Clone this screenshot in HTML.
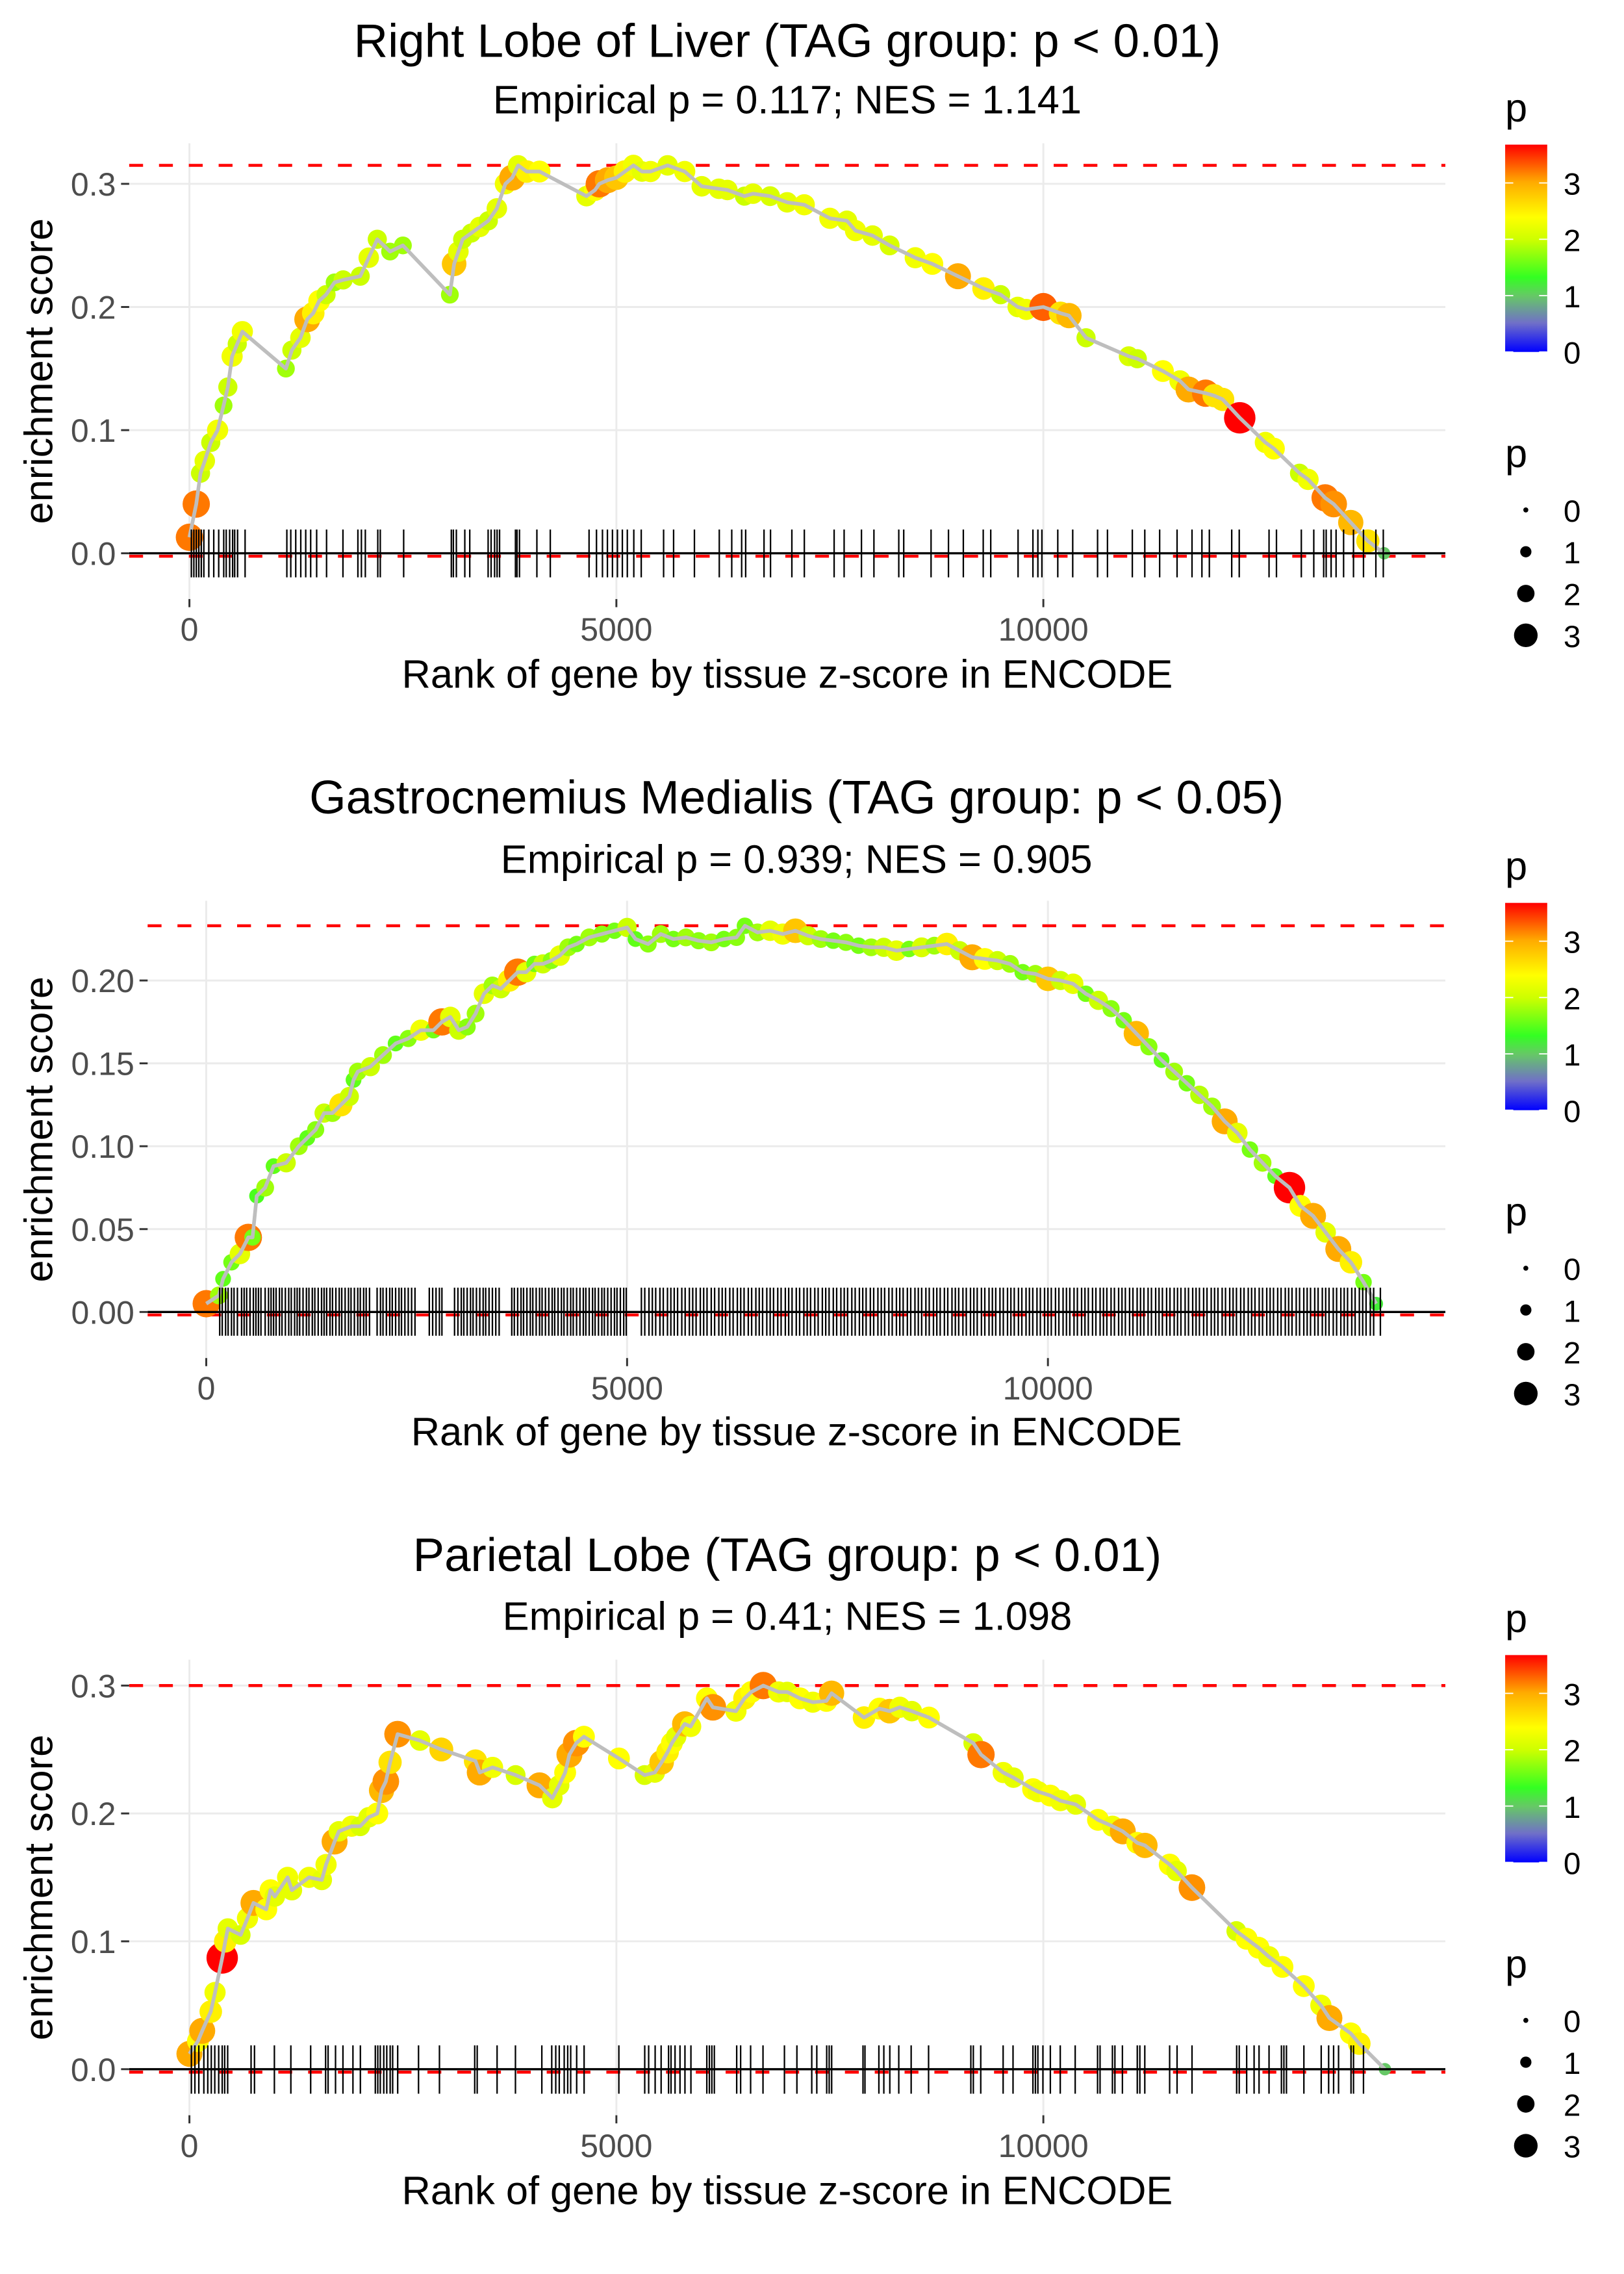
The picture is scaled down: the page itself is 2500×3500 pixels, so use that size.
<!DOCTYPE html>
<html><head><meta charset="utf-8">
<style>
html,body{margin:0;padding:0;background:#fff;}
svg{display:block;}
text{font-family:"Liberation Sans",Arial,sans-serif;}
</style></head>
<body>
<svg id="chart" xmlns="http://www.w3.org/2000/svg" width="2500" height="3500" viewBox="0 0 1100 1540">
<defs>
<linearGradient id="pgrad" x1="0" y1="1" x2="0" y2="0">
<stop offset="0" stop-color="#0000ff"/>
<stop offset="0.14" stop-color="#7070c8"/>
<stop offset="0.27" stop-color="#66c866"/>
<stop offset="0.36" stop-color="#33ff22"/>
<stop offset="0.54" stop-color="#ccff00"/>
<stop offset="0.65" stop-color="#ffff00"/>
<stop offset="0.82" stop-color="#ffaa00"/>
<stop offset="1" stop-color="#ff0000"/>
</linearGradient>
</defs>
</svg>
<script>
// ---------- data ----------
const p1Rank=[0,80,130,180,250,330,400,450,500,560,620,1130,1200,1300,1380,1450,1520,1600,1700,1800,2000,2100,2200,2350,2500,3050,3100,3150,3200,3300,3400,3500,3600,3700,3780,3850,3950,4100,4650,4750,4800,4900,5000,5100,5200,5300,5400,5600,5800,6000,6200,6300,6500,6600,6800,7000,7200,7500,7700,7800,8000,8200,8500,8700,9000,9300,9500,9700,9800,10000,10200,10300,10500,11000,11100,11400,11600,11700,11900,12000,12100,12300,12600,12700,13000,13100,13300,13400,13600,13800,13990];
const p1Es=[0.013,0.04,0.065,0.075,0.09,0.1,0.12,0.135,0.16,0.17,0.18,0.15,0.165,0.175,0.19,0.195,0.205,0.21,0.22,0.222,0.225,0.24,0.255,0.245,0.25,0.21,0.235,0.245,0.255,0.26,0.265,0.27,0.28,0.3,0.305,0.315,0.31,0.31,0.29,0.295,0.3,0.303,0.305,0.31,0.315,0.31,0.31,0.315,0.31,0.298,0.296,0.295,0.29,0.292,0.29,0.285,0.283,0.272,0.27,0.262,0.258,0.25,0.24,0.235,0.225,0.215,0.21,0.2,0.198,0.2,0.195,0.193,0.175,0.16,0.158,0.148,0.14,0.133,0.13,0.128,0.125,0.11,0.09,0.085,0.065,0.06,0.045,0.04,0.025,0.01,0.0];
const p1P=[3.2,3.2,2,2.2,2,2.3,1.8,2,2.3,2,2.3,1.8,2,2.2,3,2.5,2.4,2,1.8,2,2,2.2,2,1.8,1.8,1.8,2.8,2.2,2,2,2.2,2,2.2,2.3,3,2.2,2.5,2.4,2.2,2.4,3.2,3,2.8,2.5,2.3,2.2,2.3,2.2,2.3,2.2,2.2,2.2,2,2.2,2.1,2.2,2.3,2.3,2.2,2.3,2.2,2.1,2.3,2.4,3,2.5,2,2.2,2.3,3.3,2.6,2.9,2,2.1,2,2.4,2.3,3,3.2,2.6,2.6,3.8,2.3,2.4,2,2.3,3.2,3.1,2.9,2.6,1];
const p1Rug=[23,52,81,110,139,169,227,285,343,402,431,471,506,530,564,652,1141,1187,1245,1304,1362,1420,1490,1606,1798,1973,2014,2060,2206,2235,2509,3067,3091,3126,3225,3283,3498,3533,3574,3603,3632,3818,3836,3865,4069,4226,4680,4767,4837,4895,4954,5012,5070,5128,5204,5291,5553,5670,5914,6205,6351,6467,6514,6729,6805,7055,7201,7550,7667,7870,8016,8307,8365,8685,8889,9063,9296,9384,9704,9878,9936,9983,10169,10344,10635,10751,11042,11188,11362,11566,11741,11857,11944,12206,12294,12643,12730,13021,13167,13283,13312,13370,13428,13516,13632,13749,13894,13981];

const p2Rank=[0,150,200,300,400,500,550,600,700,800,950,1100,1200,1300,1400,1500,1600,1700,1750,1800,1950,2100,2250,2400,2550,2700,2800,2900,3000,3100,3200,3300,3400,3500,3600,3700,3800,3900,4000,4100,4200,4300,4400,4550,4700,4850,5000,5100,5250,5400,5550,5700,5850,6000,6150,6300,6400,6550,6700,6850,7000,7150,7300,7450,7600,7750,7900,8050,8200,8350,8500,8650,8800,8950,9100,9250,9400,9550,9700,9850,10000,10150,10300,10450,10600,10750,10900,11050,11200,11350,11500,11650,11800,11950,12100,12250,12400,12550,12700,12870,13000,13150,13300,13450,13600,13750,13900];
const p2Es=[0.005,0.01,0.02,0.03,0.035,0.045,0.045,0.07,0.075,0.088,0.09,0.1,0.105,0.11,0.12,0.12,0.125,0.13,0.14,0.145,0.148,0.155,0.162,0.165,0.17,0.17,0.175,0.178,0.17,0.172,0.18,0.192,0.197,0.195,0.2,0.205,0.205,0.21,0.21,0.212,0.215,0.22,0.222,0.226,0.228,0.23,0.232,0.225,0.222,0.228,0.225,0.226,0.224,0.223,0.225,0.226,0.233,0.229,0.23,0.228,0.23,0.227,0.225,0.224,0.223,0.221,0.22,0.22,0.218,0.219,0.22,0.221,0.222,0.218,0.214,0.213,0.212,0.21,0.205,0.204,0.201,0.2,0.198,0.192,0.188,0.183,0.176,0.168,0.16,0.152,0.145,0.138,0.131,0.124,0.115,0.108,0.098,0.09,0.082,0.075,0.064,0.058,0.048,0.038,0.03,0.018,0.005];
const p2P=[3.2,1.8,1.5,1.6,2.2,3.2,1.6,1.4,1.8,1.5,2,1.8,1.5,1.7,2,1.8,2.6,2,1.5,1.8,2,1.8,1.5,1.7,2.3,1.6,3.2,2.2,2,1.7,1.8,2.2,1.8,2,2.5,3.2,2.2,1.6,2,1.7,2.2,1.8,1.6,1.8,1.7,1.6,2,1.5,1.7,1.8,1.6,1.8,1.7,1.8,1.6,1.7,1.6,1.8,2.2,2.3,2.8,2,1.8,1.6,1.7,1.6,1.8,2,2.2,1.6,2.1,1.8,2.5,2,3,2.4,2,1.8,1.6,1.8,2.8,2,2.2,1.6,2,1.7,1.6,2.9,1.7,1.5,1.8,1.6,1.9,1.8,3,2.2,1.6,1.8,1.5,3.8,2.4,3,2.2,3,2.5,1.6,1.2];
const p2Rug=[160,190,230,260,300,330,370,420,450,480,520,560,590,620,650,700,740,770,800,830,870,900,940,980,1010,1050,1080,1110,1150,1190,1220,1260,1290,1330,1370,1400,1430,1470,1500,1540,1580,1610,1650,1690,1720,1760,1800,1830,1870,1900,1940,2030,2070,2100,2140,2180,2210,2250,2290,2320,2360,2400,2440,2480,2650,2690,2730,2770,2800,2950,2990,3030,3060,3100,3140,3170,3210,3250,3290,3320,3360,3400,3440,3480,3630,3660,3700,3740,3770,3810,3850,3880,3920,3960,3990,4030,4070,4110,4140,4180,4220,4250,4290,4330,4360,4400,4440,4480,4510,4550,4590,4620,4660,4700,4730,4770,4810,4850,4880,4920,4960,4990,5170,5210,5260,5300,5340,5390,5430,5480,5520,5560,5600,5650,5690,5740,5780,5820,5870,5910,5950,6000,6040,6090,6130,6170,6220,6260,6310,6350,6390,6440,6480,6530,6570,6610,6660,6700,6740,6790,6830,6880,6920,6960,7010,7050,7100,7140,7180,7230,7270,7320,7360,7400,7450,7490,7540,7580,7620,7670,7710,7760,7800,7840,7890,7930,7980,8020,8060,8110,8150,8200,8240,8280,8330,8370,8420,8460,8500,8550,8590,8640,8680,8720,8770,8810,8860,8900,8940,8990,9030,9080,9120,9160,9210,9250,9300,9340,9380,9430,9470,9520,9560,9600,9650,9690,9740,9780,9820,9870,9910,9960,10000,10040,10090,10130,10180,10220,10260,10310,10350,10400,10440,10480,10530,10570,10620,10660,10700,10750,10790,10840,10880,10920,10970,11010,11060,11100,11140,11190,11230,11280,11320,11360,11410,11450,11500,11540,11580,11630,11670,11720,11760,11800,11850,11890,11940,11980,12020,12070,12110,12160,12200,12240,12290,12330,12380,12420,12460,12510,12550,12600,12640,12680,12730,12770,12820,12860,12900,12950,12990,13040,13080,13120,13170,13210,13260,13300,13340,13390,13430,13480,13520,13560,13610,13650,13700,13740,13780,13830,13870,13950];

const p3Rank=[0,100,150,250,300,384,420,450,600,680,750,900,950,1000,1150,1200,1400,1550,1600,1700,1750,1900,2000,2100,2200,2250,2300,2350,2438,2700,2950,3350,3400,3550,3820,4100,4250,4330,4400,4450,4530,4620,5030,5330,5450,5530,5600,5650,5700,5800,5870,6060,6130,6400,6500,6580,6720,6900,7000,7150,7300,7460,7520,7900,8080,8200,8320,8460,8660,9180,9270,9530,9650,9880,9940,10080,10200,10380,10640,10810,10930,11100,11190,11480,11560,11740,12260,12380,12520,12640,12800,13050,13250,13350,13600,13700,14000];
const p3Es=[0.012,0.022,0.03,0.045,0.06,0.087,0.1,0.11,0.105,0.118,0.13,0.125,0.14,0.135,0.15,0.14,0.15,0.148,0.16,0.178,0.186,0.19,0.19,0.197,0.2,0.218,0.225,0.24,0.262,0.257,0.25,0.241,0.232,0.236,0.23,0.222,0.212,0.222,0.232,0.246,0.255,0.26,0.243,0.23,0.232,0.24,0.248,0.255,0.26,0.27,0.268,0.29,0.283,0.28,0.29,0.295,0.3,0.295,0.295,0.29,0.287,0.288,0.294,0.275,0.282,0.28,0.283,0.28,0.275,0.255,0.246,0.232,0.228,0.219,0.217,0.214,0.21,0.207,0.195,0.19,0.186,0.177,0.175,0.16,0.155,0.142,0.108,0.102,0.095,0.088,0.08,0.065,0.05,0.04,0.028,0.02,0];
const p3P=[3,2.4,3,2.5,2.3,3.8,2.5,2.2,2.1,2.3,3,2.4,2.4,2.2,2.3,2.2,2.3,2.2,2.3,3,2.2,2.3,2.1,2.2,2.4,2.9,3.1,2.6,3.1,2.2,2.7,2.6,3,2.3,2.1,3,2.2,2.2,2.4,3,3.1,2.4,2.4,2.1,2.2,2.8,2.5,2.4,2.2,2.9,2.3,2.4,3.1,2.3,2.5,2.4,3.2,2.3,2.2,2.4,2.3,2.4,2.9,2.5,2.4,2.8,2.3,2.2,2.4,2.1,3.2,2.3,2.2,2.4,2.3,2.4,2.3,2.2,2.4,2.3,3,2.4,2.9,2.4,2.2,3.1,2.1,2.4,2.4,2.3,2.4,2.4,2.3,3,2.4,2.5,1];
const p3Rug=[23,64,110,169,215,256,297,343,384,413,448,722,762,995,1188,1420,1595,1624,1711,1798,1915,2002,2177,2206,2235,2276,2311,2351,2380,2439,2683,2928,3341,3370,3603,3818,4127,4243,4290,4331,4389,4430,4465,4535,4622,5029,5332,5378,5454,5524,5611,5640,5687,5745,5803,5873,6059,6089,6118,6147,6409,6455,6572,6717,6968,7114,7288,7347,7463,7492,7521,7888,7911,8074,8132,8202,8307,8452,8656,9151,9180,9267,9529,9645,9878,9907,9936,9995,10082,10198,10373,10635,10664,10809,10838,10926,11100,11130,11188,11479,11566,11741,12264,12294,12381,12468,12526,12643,12788,12817,12847,13051,13254,13341,13399,13457,13603,13632,13749];

const xTicks=[0,5000,10000];
const xTickLabels=["0","5000","10000"];
const yTicks1=[0,0.1,0.2,0.3], yLab1=["0.0","0.1","0.2","0.3"];
const yTicks2=[0,0.05,0.1,0.15,0.2], yLab2=["0.00","0.05","0.10","0.15","0.20"];
const yTicks3=[0,0.1,0.2,0.3], yLab3=["0.0","0.1","0.2","0.3"];
const legendColorTicks=[0,1,2,3];
const legendSizeTicks=[0,1,2,3];
const pMax=3.68;

// ---------- helpers ----------
const NS="http://www.w3.org/2000/svg";
const svg=document.getElementById('chart');
function mk(tag,attrs,parent){const e=document.createElementNS(NS,tag);for(const k in attrs)e.setAttribute(k,attrs[k]);(parent||svg).appendChild(e);return e;}
const cStops=[[0,[0,0,255]],[0.5,[112,112,200]],[1.0,[102,200,102]],[1.3,[51,255,34]],[2.0,[204,255,0]],[2.4,[255,255,0]],[3.0,[255,170,0]],[3.68,[255,0,0]]];
function pColor(p){p=Math.max(0,Math.min(pMax,p));for(let i=1;i<cStops.length;i++){if(p<=cStops[i][0]){const a=cStops[i-1],b=cStops[i],t=(p-a[0])/(b[0]-a[0]);const c=a[1].map((v,j)=>Math.round(v+(b[1][j]-v)*t));return `rgb(${c[0]},${c[1]},${c[2]})`;}}return 'rgb(255,0,0)';}
function pRadius(p){return 1.9+2.3*p;}

const FT=32, FS=27, FA=27, FK=22;

function panel(cfg){
  const g=mk('g',{});
  
  
  const xs=r=>cfg.x0+r*cfg.kx, ys=v=>cfg.y0-v*cfg.ky;
  const cx=(cfg.left+cfg.right)/2;
  let t=mk('text',{x:cx,y:cfg.titleY+FT*0.36,'text-anchor':'middle','font-size':FT,fill:'#000'},g);t.textContent=cfg.title;
  
  t=mk('text',{x:cx,y:cfg.subY+FS*0.36,'text-anchor':'middle','font-size':FS,fill:'#000'},g);t.textContent=cfg.sub;
  
  const grid=mk('g',{stroke:'#ebebeb','stroke-width':1.3},g);
  
  cfg.yt.forEach(v=>mk('line',{x1:cfg.left,x2:cfg.right,y1:ys(v),y2:ys(v)},grid));
  xTicks.forEach(v=>mk('line',{x1:xs(v),x2:xs(v),y1:cfg.top,y2:cfg.bottom},grid));
  const ya=mk('g',{},g);
  cfg.yt.forEach((v,i)=>{mk('line',{x1:cfg.left-5.5,x2:cfg.left,y1:ys(v),y2:ys(v),stroke:'#333','stroke-width':1.3},ya);
    const l=mk('text',{x:cfg.left-9,y:ys(v)+FK*0.36,'text-anchor':'end','font-size':FK,fill:'#4d4d4d'},ya);l.textContent=cfg.yl[i];
    });
  const xa=mk('g',{},g);
  xTicks.forEach((v,i)=>{mk('line',{x1:xs(v),x2:xs(v),y1:cfg.bottom,y2:cfg.bottom+5.5,stroke:'#333','stroke-width':1.3},xa);
    const l=mk('text',{x:xs(v),y:cfg.xlabY+FK*0.36,'text-anchor':'middle','font-size':FK,fill:'#4d4d4d'},xa);l.textContent=xTickLabels[i];
    });
  t=mk('text',{x:cx,y:cfg.axY+FA*0.36,'text-anchor':'middle','font-size':FA,fill:'#000'},g);t.textContent='Rank of gene by tissue z-score in ENCODE';
  
  const ymid=(cfg.top+cfg.bottom)/2;
  t=mk('text',{x:0,y:0,'text-anchor':'middle','font-size':FA,fill:'#000',transform:`translate(${26+9.5},${ymid}) rotate(-90)`},g);t.textContent='enrichment score';
  
  const esMax=Math.max(...cfg.es);
  let ln=mk('line',{x1:cfg.left,x2:cfg.right,y1:ys(esMax),y2:ys(esMax),stroke:'#ff0000','stroke-width':2,'stroke-dasharray':'9.4 10.8'},g);
  
  ln=mk('line',{x1:cfg.left,x2:cfg.right,y1:ys(0)+2,y2:ys(0)+2,stroke:'#ff0000','stroke-width':2,'stroke-dasharray':'9.4 10.8'},g);
  
  const pts=mk('g',{},g);
  cfg.rank.forEach((r,i)=>{const c=mk('circle',{cx:xs(r),cy:ys(cfg.es[i]),r:pRadius(cfg.p[i]),fill:pColor(cfg.p[i])},pts);
    });
  const pl=mk('polyline',{points:cfg.rank.map((r,i)=>xs(r)+','+ys(cfg.es[i])).join(' '),fill:'none',stroke:'#bebebe','stroke-width':2.5,'stroke-linejoin':'round'},g);
  
  const rug=mk('g',{stroke:'#000','stroke-width':1},g);
  cfg.rug.forEach(r=>{const l=mk('line',{x1:xs(r),x2:xs(r),y1:cfg.rugTop,y2:cfg.rugBot},rug);
    });
  ln=mk('line',{x1:cfg.left,x2:cfg.right,y1:ys(0),y2:ys(0),stroke:'#000','stroke-width':1.5},g);
  
  const lm=ymid+(cfg.legShift||0);
  const lg=mk('g',{},g);
  t=mk('text',{x:1019.5,y:lm-177+8,'font-size':FS,fill:'#000'},lg);t.textContent='p';
  const bTop=lm-153.4,bBot=lm-13,bH=bBot-bTop;
  mk('rect',{x:1019.5,y:bTop,width:28.5,height:bH,fill:'url(#pgrad)'},lg);
  legendColorTicks.forEach(v=>{const yy=bBot-v/pMax*bH;
    mk('line',{x1:1019.5,x2:1025,y1:yy,y2:yy,stroke:'#fff','stroke-width':0.8},lg);
    mk('line',{x1:1042.5,x2:1048,y1:yy,y2:yy,stroke:'#fff','stroke-width':0.8},lg);
    const l=mk('text',{x:1059,y:yy+FK*0.36,'font-size':FK-1,fill:'#000'},lg);l.textContent=String(v);});
  const sg=mk('g',{},g);
  t=mk('text',{x:1019.5,y:lm+57+8,'font-size':FS,fill:'#000'},sg);t.textContent='p';
  legendSizeTicks.forEach((v,i)=>{const yy=lm+94+i*28.3;
    mk('circle',{cx:1033.5,cy:yy,r:1.7+2.1*v,fill:'#000'},sg);
    const l=mk('text',{x:1059,y:yy+FK*0.36,'font-size':FK-1,fill:'#000'},sg);l.textContent=String(v);});
}

panel({name:'panel-right-lobe-of-liver',title:'Right Lobe of Liver (TAG group: p < 0.01)',sub:'Empirical p = 0.117; NES = 1.141',
  left:87.5,right:979,top:97,bottom:405.7,x0:128.3,kx:0.05784,y0:374.7,ky:834,
  titleY:27,subY:67,xlabY:426,axY:456,yt:yTicks1,yl:yLab1,rank:p1Rank,es:p1Es,p:p1P,rug:p1Rug,rugTop:358.6,rugBot:391});
panel({name:'panel-gastrocnemius-medialis',title:'Gastrocnemius Medialis (TAG group: p < 0.05)',sub:'Empirical p = 0.939; NES = 0.905',
  left:100,right:979,top:610,bottom:919.7,x0:139.7,kx:0.05701,y0:888.5,ky:1122.5,
  titleY:539.4,subY:581.5,xlabY:939.8,axY:969,yt:yTicks2,yl:yLab2,rank:p2Rank,es:p2Es,p:p2P,rug:p2Rug,rugTop:872,rugBot:904.6});
panel({name:'panel-parietal-lobe',title:'Parietal Lobe (TAG group: p < 0.01)',sub:'Empirical p = 0.41; NES = 1.098',
  left:87.5,right:979,top:1124,bottom:1432.5,x0:128.3,kx:0.05784,y0:1401.3,ky:866,
  titleY:1052.3,subY:1094,xlabY:1452.8,axY:1483,yt:yTicks3,yl:yLab3,rank:p3Rank,es:p3Es,p:p3P,rug:p3Rug,rugTop:1385.2,rugBot:1417.9,legShift:-4});
</script>
</body></html>
